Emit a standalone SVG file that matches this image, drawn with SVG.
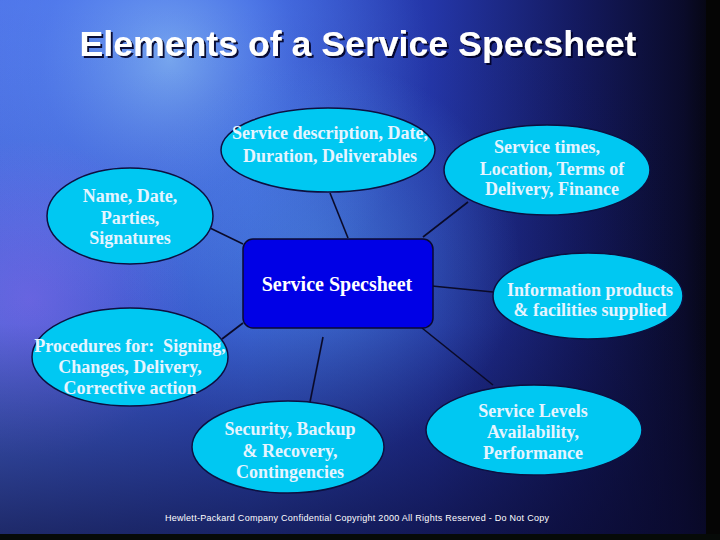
<svg xmlns="http://www.w3.org/2000/svg" width="720" height="540" viewBox="0 0 720 540">
<defs>
<linearGradient id="bgH" x1="0" y1="0" x2="1" y2="0">
<stop offset="0" stop-color="#4a6ee6"/>
<stop offset="0.35" stop-color="#3557d8"/>
<stop offset="0.6" stop-color="#2436a8"/>
<stop offset="0.8" stop-color="#141a60"/>
<stop offset="0.95" stop-color="#0a0b2a"/>
<stop offset="1" stop-color="#040408"/>
</linearGradient>
<radialGradient id="glow1" cx="170" cy="60" r="260" gradientUnits="userSpaceOnUse">
<stop offset="0" stop-color="#a0d8ff" stop-opacity="0.6"/>
<stop offset="0.5" stop-color="#6aa0ff" stop-opacity="0.3"/>
<stop offset="1" stop-color="#6aa0ff" stop-opacity="0"/>
</radialGradient>
<radialGradient id="glow2" cx="30" cy="300" r="160" gradientUnits="userSpaceOnUse">
<stop offset="0" stop-color="#9a70ff" stop-opacity="0.5"/>
<stop offset="1" stop-color="#9a70ff" stop-opacity="0"/>
</radialGradient>
<radialGradient id="glow3" cx="320" cy="260" r="200" gradientUnits="userSpaceOnUse">
<stop offset="0" stop-color="#60b0ff" stop-opacity="0.45"/>
<stop offset="1" stop-color="#60b0ff" stop-opacity="0"/>
</radialGradient>
<linearGradient id="bgV" x1="0" y1="0" x2="0" y2="1">
<stop offset="0" stop-color="#0a0a30" stop-opacity="0"/>
<stop offset="0.6" stop-color="#0a0a30" stop-opacity="0.1"/>
<stop offset="1" stop-color="#0a0a30" stop-opacity="0.7"/>
</linearGradient>
<filter id="sh" x="-5%" y="-20%" width="110%" height="140%">
<feDropShadow dx="2" dy="2" stdDeviation="0.6" flood-color="#000020" flood-opacity="0.9"/>
</filter>
</defs>
<style>
.bub{fill:#00c8f2;stroke:#0c1040;stroke-width:1.5}
.lbl{font-family:'Liberation Serif','DejaVu Serif',serif;font-weight:bold;font-size:18px;fill:#e6f4ff;text-anchor:middle}
.con line{stroke:#0a0a28;stroke-width:1.6}
</style>
<rect width="720" height="540" fill="url(#bgH)"/>
<rect width="720" height="540" fill="url(#glow1)"/>
<rect width="720" height="540" fill="url(#glow2)"/>
<rect width="720" height="540" fill="url(#glow3)"/>
<rect width="720" height="540" fill="url(#bgV)"/>
<rect x="706" y="0" width="14" height="540" fill="#050505"/>
<rect x="0" y="534" width="720" height="6" fill="#060a08"/>

<text x="358" y="56" font-family="Liberation Sans, Arial, sans-serif" font-weight="bold" font-size="35" fill="#ffffff" text-anchor="middle" textLength="557" lengthAdjust="spacingAndGlyphs" filter="url(#sh)">Elements of a Service Specsheet</text>

<g class="con">
<line x1="348" y1="238" x2="330" y2="193"/>
<line x1="210" y1="228" x2="243" y2="244"/>
<line x1="423" y1="237" x2="468" y2="202"/>
<line x1="432" y1="286" x2="493" y2="292"/>
<line x1="422" y1="328" x2="493" y2="385"/>
<line x1="243" y1="323" x2="222" y2="339"/>
<line x1="323" y1="337" x2="310" y2="402"/>
</g>

<g id="center">
<rect x="243" y="239" width="190" height="89" rx="10" fill="#0000e6" stroke="#0a0a30" stroke-width="1.5"/>
<text class="lbl" x="337" y="291" style="font-size:20px;fill:#ffffff">Service Specsheet</text>
</g>
<g id="n-desc">
<ellipse class="bub" cx="328" cy="150" rx="107" ry="42"/>
<text class="lbl" x="330" y="139">Service description, Date,</text>
<text class="lbl" x="330" y="162">Duration, Deliverables</text>
</g>
<g id="n-name">
<ellipse class="bub" cx="130" cy="216" rx="83" ry="48"/>
<text class="lbl" x="130" y="202">Name, Date,</text>
<text class="lbl" x="130" y="224">Parties,</text>
<text class="lbl" x="130" y="244">Signatures</text>
</g>
<g id="n-times">
<ellipse class="bub" cx="547" cy="170" rx="103" ry="45"/>
<text class="lbl" x="547" y="153">Service times,</text>
<text class="lbl" x="552" y="175">Location, Terms of</text>
<text class="lbl" x="552" y="195">Delivery, Finance</text>
</g>
<g id="n-info">
<ellipse class="bub" cx="588" cy="296" rx="95" ry="43"/>
<text class="lbl" x="590" y="296">Information products</text>
<text class="lbl" x="590" y="316">&amp; facilities supplied</text>
</g>
<g id="n-proc">
<ellipse class="bub" cx="130" cy="357" rx="98" ry="49"/>
<text class="lbl" x="130" y="352" xml:space="preserve">Procedures for:  Signing,</text>
<text class="lbl" x="130" y="373">Changes, Delivery,</text>
<text class="lbl" x="130" y="394">Corrective action</text>
</g>
<g id="n-sec">
<ellipse class="bub" cx="288" cy="447" rx="96" ry="46"/>
<text class="lbl" x="290" y="435">Security, Backup</text>
<text class="lbl" x="290" y="457">&amp; Recovery,</text>
<text class="lbl" x="290" y="478">Contingencies</text>
</g>
<g id="n-levels">
<ellipse class="bub" cx="534" cy="430" rx="108" ry="45"/>
<text class="lbl" x="533" y="417">Service Levels</text>
<text class="lbl" x="533" y="438">Availability,</text>
<text class="lbl" x="533" y="459">Performance</text>
</g>

<text x="165" y="521" font-family="Liberation Sans, Arial, sans-serif" font-size="9" fill="#ffffff" textLength="384">Hewlett-Packard Company Confidential Copyright 2000 All Rights Reserved - Do Not Copy</text>
</svg>
